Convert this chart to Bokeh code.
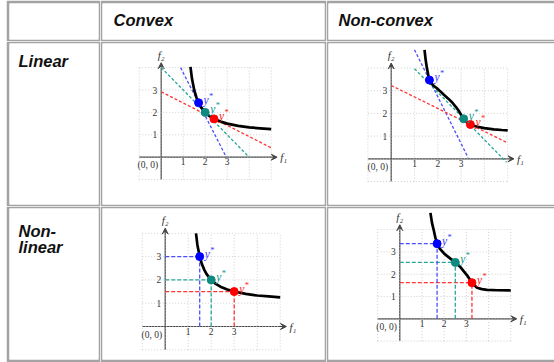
from bokeh.plotting import figure
from bokeh.layouts import column, row
from bokeh.models import Range1d, Arrow, VeeHead, Spacer
from bokeh.core.properties import value
from bokeh.embed import file_html
from bokeh.resources import INLINE

# ---------------- data ----------------
col_titles = ["Convex", "Non-convex"]
row_titles = [["Linear"], ["Non-", "linear"]]

grid_x = [-1, 0, 1, 2, 3, 4, 5]
grid_y = [-1, 0, 1, 2, 3, 4]
tick_vals = [1, 2, 3]
tick_labels = ["1", "2", "3"]
origin_label = "(0, 0)"
opt_label = "y"
opt_star = "*"

# Linear scalarisation, convex front
lc_front_x = [1.33, 1.4, 1.5, 1.6, 1.7, 1.8, 2.0, 2.2, 2.4, 2.7, 3.0, 3.5, 4.0, 4.5, 5.0]
lc_front_y = [4.03, 3.5, 3.0, 2.67, 2.43, 2.25, 2.0, 1.83, 1.71, 1.59, 1.5, 1.4, 1.33, 1.29, 1.25]
lc_opt_x = [1.7, 2.0, 2.4]
lc_opt_y = [2.43, 2.0, 1.71]
lc_line_x0 = [0.88, 0.0, 0.0]
lc_line_y0 = [4.0, 4.0, 2.92]
lc_line_x1 = [2.96, 4.0, 5.0]
lc_line_y1 = [0.0, 0.0, 0.42]

# Linear scalarisation, non-convex front
ln_front_x = [1.43, 1.48, 1.54, 1.6, 1.64, 1.72, 1.82, 1.95, 2.1, 2.26, 2.45, 2.62,
              2.78, 2.92, 3.02, 3.11, 3.22, 3.35, 3.5, 3.7, 4.0, 4.4, 4.75, 5.0]
ln_front_y = [4.8, 4.35, 3.95, 3.65, 3.47, 3.33, 3.22, 3.12, 2.98, 2.82, 2.65, 2.48,
              2.28, 2.08, 1.9, 1.76, 1.63, 1.54, 1.47, 1.41, 1.35, 1.3, 1.27, 1.25]
ln_opt_x = [1.64, 3.11, 3.4]
ln_opt_y = [3.47, 1.76, 1.51]
ln_line_x0 = [1.0, 1.0, 0.0]
ln_line_y0 = [4.8, 3.97, 3.23]
ln_line_x1 = [3.3, 4.95, 5.0]
ln_line_y1 = [0.05, -0.15, 0.7]

# Non-linear scalarisation, convex front
nc_front_x = [1.34, 1.4, 1.5, 1.6, 1.7, 1.8, 2.0, 2.2, 2.4, 2.7, 3.0, 3.5, 4.0, 4.5, 5.0]
nc_front_y = [4.0, 3.5, 3.0, 2.67, 2.43, 2.25, 2.0, 1.83, 1.71, 1.59, 1.5, 1.4, 1.33, 1.29, 1.25]
nc_opt_x = [1.5, 2.0, 3.0]
nc_opt_y = [3.0, 2.0, 1.5]

# Non-linear scalarisation, non-convex front
nn_front_x = [1.38, 1.45, 1.53, 1.6, 1.68, 1.8, 2.0, 2.28, 2.5, 2.73, 3.03, 3.25,
              3.48, 3.7, 3.93, 4.4, 5.0]
nn_front_y = [4.75, 4.3, 3.97, 3.65, 3.37, 3.15, 2.92, 2.7, 2.53, 2.32, 1.95, 1.62,
              1.39, 1.33, 1.3, 1.28, 1.27]
nn_opt_x = [1.68, 2.5, 3.25]
nn_opt_y = [3.37, 2.53, 1.62]

# ---------------- style ----------------
BORDER = "#a3a3a3"
SANS = "Liberation Sans"
SERIF = "Liberation Serif"
AX = "#444444"
GRID = "#c4c4c4"
PT_COLORS = ["#0000ff", "#0e8a80", "#ff0000"]
DASH_COLORS = ["#4d4dff", "#26a69a", "#ff3333"]
LBL_COLORS = ["#3a3aff", "#14958a", "#ff2020"]


def cell(w, h, b, xr=None, yr=None):
    bl, br, bt, bb = b
    p = figure(width=w, height=h, output_backend="svg", toolbar_location=None,
               min_border_left=bl, min_border_right=br, min_border_top=bt,
               min_border_bottom=bb, x_axis_location=None, y_axis_location=None,
               x_range=xr if xr is not None else Range1d(bl, w - br),
               y_range=yr if yr is not None else Range1d(h - bb, bt))
    p.border_fill_color = BORDER
    p.background_fill_color = "white"
    p.outline_line_color = None
    p.xgrid.visible = False
    p.ygrid.visible = False
    return p


def text_cell(w, h, b, lines, x, y0, dy):
    p = cell(w, h, b)
    p.text(x=[x] * len(lines), y=[y0 + i * dy for i in range(len(lines))], text=lines,
           text_font=value(SANS), text_font_size="16.5px", text_font_style="bold italic",
           text_color="#111111", text_align="left", text_baseline="alphabetic")
    return p


def chart(w, h, b, ox, oy, ux, uy):
    bl, br, bt, bb = b
    xr = Range1d((bl - ox) / ux, (w - br - ox) / ux)
    yr = Range1d((oy - (h - bb)) / uy, (oy - bt) / uy)
    p = cell(w, h, b, xr=xr, yr=yr)
    gx0, gx1 = min(grid_x), max(grid_x)
    gy0, gy1 = min(grid_y), max(grid_y)
    p.segment(x0=grid_x, y0=[gy0] * len(grid_x), x1=grid_x, y1=[gy1] * len(grid_x),
              line_color=GRID, line_dash="1 2", line_width=0.8)
    p.segment(x0=[gx0] * len(grid_y), y0=grid_y, x1=[gx1] * len(grid_y), y1=grid_y,
              line_color=GRID, line_dash="1 2", line_width=0.8)
    p.add_layout(Arrow(end=VeeHead(size=6, line_color=AX, fill_color=AX, line_width=1),
                       x_start=gx0, y_start=0, x_end=gx1 + 0.27, y_end=0,
                       line_color=AX, line_width=1.2, level="underlay"))
    p.add_layout(Arrow(end=VeeHead(size=6, line_color=AX, fill_color=AX, line_width=1),
                       x_start=0, y_start=gy0, x_end=0, y_end=gy1 + 0.22,
                       line_color=AX, line_width=1.2, level="underlay"))
    p.text(x=tick_vals, y=[0] * len(tick_vals), text=tick_labels, y_offset=1,
           text_align="center", text_baseline="top", text_font=value(SERIF),
           text_font_size="9.5px", text_color="#333333")
    p.text(x=[0] * len(tick_vals), y=tick_vals, text=tick_labels, x_offset=-4,
           text_align="right", text_baseline="middle", text_font=value(SERIF),
           text_font_size="9.5px", text_color="#333333")
    p.text(x=[0], y=[0], text=[origin_label], x_offset=-3, y_offset=3,
           text_align="right", text_baseline="top", text_font=value(SERIF),
           text_font_size="9.5px", text_color="#333333")
    p.text(x=[gx1 + 0.27], y=[0], text=["f\u2081"], x_offset=3,
           text_align="left", text_baseline="middle", text_font=value(SERIF),
           text_font_size="11px", text_font_style="italic", text_color="#333333")
    p.text(x=[0], y=[gy1 + 0.22], text=["f\u2082"], y_offset=-2,
           text_align="center", text_baseline="bottom", text_font=value(SERIF),
           text_font_size="11px", text_font_style="italic", text_color="#333333")
    return p


def add_front(p, fx, fy, ox_, oy_):
    p.line(fx, fy, line_color="black", line_width=2.7)
    p.scatter(ox_, oy_, size=8, fill_color=PT_COLORS, line_color=PT_COLORS)
    n = len(ox_)
    p.text(x=ox_, y=oy_, text=[opt_label] * n, x_offset=5, y_offset=-3,
           text_align="left", text_baseline="alphabetic", text_font=value(SERIF),
           text_font_size="11.5px", text_font_style="italic", text_color=LBL_COLORS)
    p.text(x=ox_, y=oy_, text=[opt_star] * n, x_offset=10.5, y_offset=-7,
           text_align="left", text_baseline="alphabetic", text_font=value(SERIF),
           text_font_size="8.5px", text_color=LBL_COLORS)


def add_lines(p, x0, y0, x1, y1):
    p.segment(x0=x0, y0=y0, x1=x1, y1=y1, line_color=DASH_COLORS, line_width=1.3,
              line_dash="3 2")


def add_proj(p, ox_, oy_):
    n = len(ox_)
    p.segment(x0=[0] * n, y0=oy_, x1=ox_, y1=oy_, line_color=DASH_COLORS,
              line_width=1.3, line_dash="4 2")
    p.segment(x0=ox_, y0=[0] * n, x1=ox_, y1=oy_, line_color=DASH_COLORS,
              line_width=1.3, line_dash="4 2")


# cell sizes (screen px) and border widths (left, right, top, bottom)
W0, W1, W2 = 94, 226, 228
H0, H1, H2 = 41, 165, 156
B = {
    (0, 0): (3, 2, 3, 2), (0, 1): (2, 2, 3, 2), (0, 2): (2, 0, 3, 2),
    (1, 0): (3, 2, 2, 2), (1, 1): (2, 2, 2, 2), (1, 2): (2, 0, 2, 2),
    (2, 0): (3, 2, 2, 3), (2, 1): (2, 2, 2, 3), (2, 2): (2, 0, 2, 3),
}

# header row
h0 = cell(W0, H0, B[(0, 0)])
h1 = text_cell(W1, H0, B[(0, 1)], [col_titles[0]], 13, 19, 0)
h2 = text_cell(W2, H0, B[(0, 2)], [col_titles[1]], 12, 19, 0)

# row 1 : linear
r1l = text_cell(W0, H1, B[(1, 0)], row_titles[0], 12, 19, 0)
p1 = chart(W1, H1, B[(1, 1)], 60.7, 115.7, 22.0, 22.4)
add_lines(p1, lc_line_x0, lc_line_y0, lc_line_x1, lc_line_y1)
add_front(p1, lc_front_x, lc_front_y, lc_opt_x, lc_opt_y)
p2 = chart(W2, H1, B[(1, 2)], 64.7, 117.3, 23.3, 22.7)
add_lines(p2, ln_line_x0, ln_line_y0, ln_line_x1, ln_line_y1)
add_front(p2, ln_front_x, ln_front_y, ln_opt_x, ln_opt_y)

# row 2 : non-linear
r2l = text_cell(W0, H2, B[(2, 0)], row_titles[1], 12, 24, 16.5)
p3 = chart(W1, H2, B[(2, 1)], 64.7, 120.0, 23.0, 23.3)
add_proj(p3, nc_opt_x, nc_opt_y)
add_front(p3, nc_front_x, nc_front_y, nc_opt_x, nc_opt_y)
p4 = chart(W2, H2, B[(2, 2)], 73.3, 112.3, 22.2, 22.3)
add_proj(p4, nn_opt_x, nn_opt_y)
add_front(p4, nn_front_x, nn_front_y, nn_opt_x, nn_opt_y)

table = column(row(h0, h1, h2), row(r1l, p1, p2), row(r2l, p3, p4))
layout = row(Spacer(width=6, height=H0 + H1 + H2), table)

open("out.html", "w").write(file_html(layout, INLINE))
